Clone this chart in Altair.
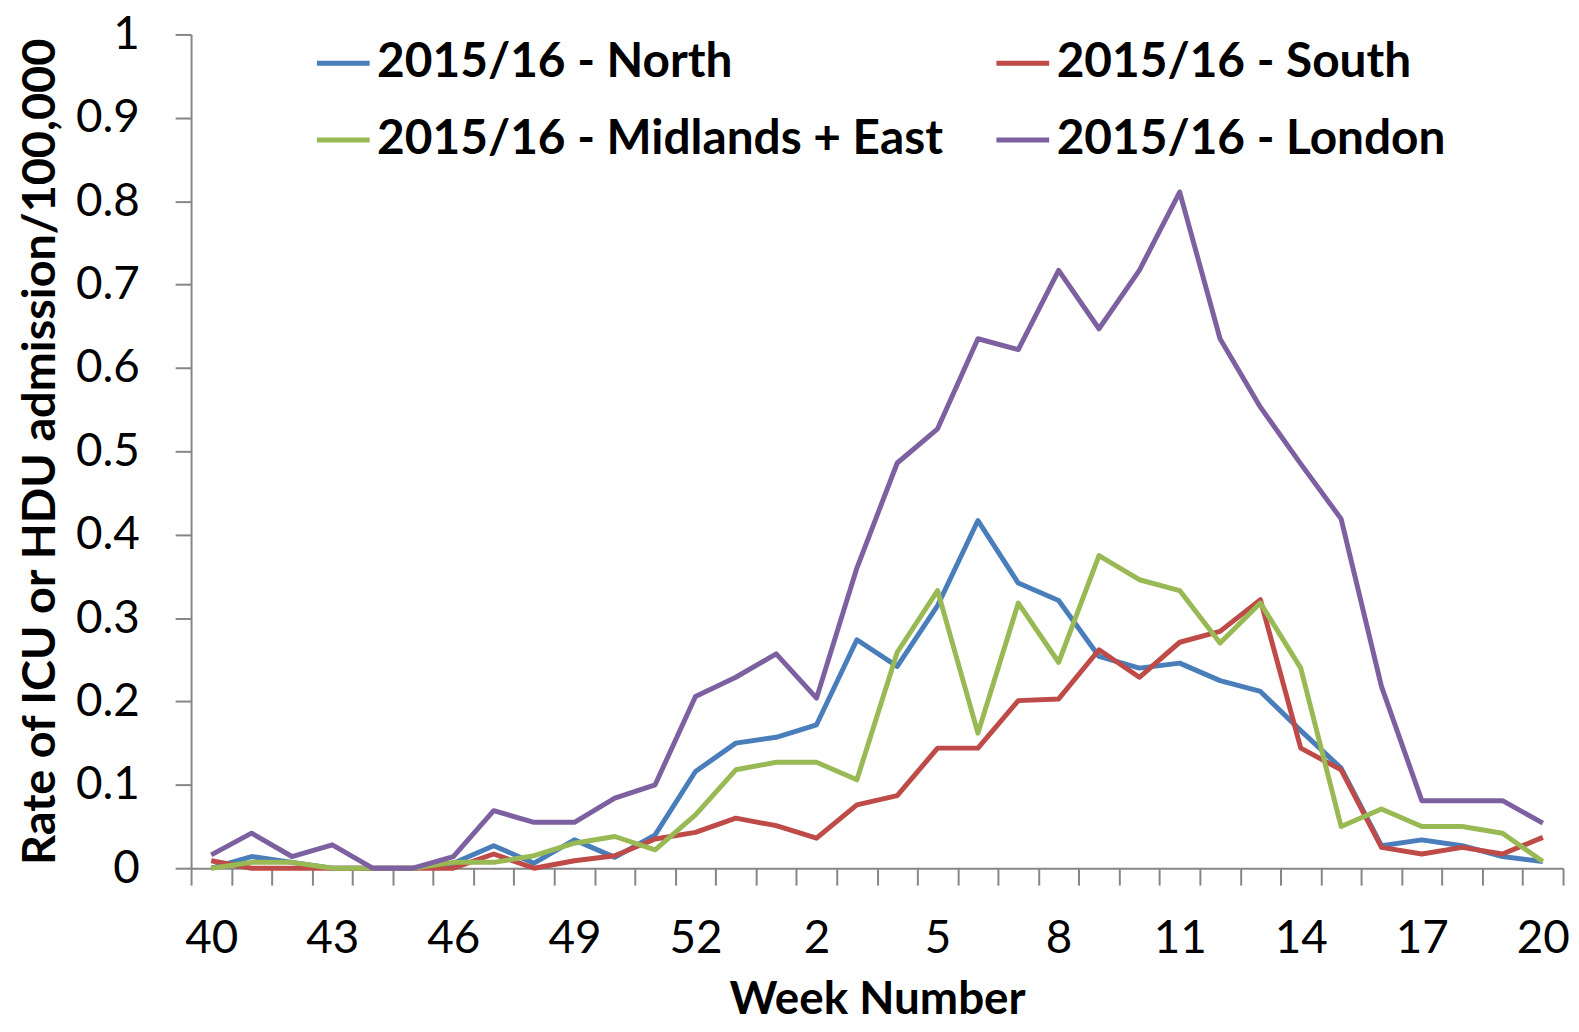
import altair as alt
import pandas as pd

weeks = ["40", "41", "42", "43", "44", "45", "46", "47", "48", "49", "50", "51", "52", "53",
         "1", "2", "3", "4", "5", "6", "7", "8", "9", "10", "11", "12", "13", "14", "15",
         "16", "17", "18", "19", "20"]

north = [0.0, 0.014, 0.007, 0.0, 0.0, 0.0, 0.006, 0.027, 0.006, 0.034, 0.013, 0.040,
         0.116, 0.150, 0.157, 0.172, 0.274, 0.242, 0.315, 0.417, 0.342, 0.321, 0.254,
         0.240, 0.246, 0.225, 0.212, 0.165, 0.120, 0.027, 0.034, 0.027, 0.014, 0.008]
south = [0.009, 0.0, 0.0, 0.0, 0.0, 0.0, 0.0, 0.017, 0.0, 0.009, 0.015, 0.035,
         0.043, 0.060, 0.051, 0.036, 0.076, 0.087, 0.144, 0.144, 0.201, 0.203, 0.262,
         0.229, 0.271, 0.284, 0.322, 0.144, 0.118, 0.025, 0.017, 0.025, 0.017, 0.037]
midlands = [0.0, 0.007, 0.007, 0.0, 0.0, 0.0, 0.007, 0.007, 0.015, 0.030, 0.038, 0.022,
            0.064, 0.118, 0.127, 0.127, 0.106, 0.259, 0.333, 0.162, 0.318, 0.247, 0.375,
            0.346, 0.333, 0.270, 0.318, 0.240, 0.050, 0.071, 0.050, 0.050, 0.042, 0.008]
london = [0.016, 0.042, 0.014, 0.028, 0.0, 0.0, 0.014, 0.069, 0.055, 0.055, 0.084, 0.100,
          0.206, 0.229, 0.257, 0.204, 0.360, 0.486, 0.527, 0.635, 0.622, 0.717, 0.647,
          0.717, 0.811, 0.635, 0.553, 0.485, 0.419, 0.218, 0.081, 0.081, 0.081, 0.054]

series_names = ["2015/16 - North", "2015/16 - South", "2015/16 - Midlands + East", "2015/16 - London"]
series_colors = ["#4A7EBB", "#BE4B48", "#98B954", "#7D60A0"]
y_ticks = [0, 0.1, 0.2, 0.3, 0.4, 0.5, 0.6, 0.7, 0.8, 0.9, 1]

rows = []
for name, vals in zip(series_names, [north, south, midlands, london]):
    for i, (w, v) in enumerate(zip(weeks, vals)):
        rows.append({"idx": i, "week": w, "value": v, "series": name})
df = pd.DataFrame(rows)

n = len(weeks)
W, H = 1379, 838
band = W / n
boundaries = [i - 0.5 for i in range(n + 1)]
labels_js = "[" + ",".join("'" + w + "'" for w in weeks) + "]"
k = "round(datum.value + 0.5)"
label_expr = "(" + k + " % 3 == 0 && " + k + " < " + str(n) + ") ? " + labels_js + "[" + k + "] : ''"

FONT = "Lato"
AXIS_COLOR = "#868686"

chart = alt.Chart(df).mark_line(strokeWidth=5, strokeJoin="round").encode(
    x=alt.X("idx:Q",
            scale=alt.Scale(domain=[-0.5, n - 0.5], nice=False, zero=False),
            axis=alt.Axis(values=boundaries, labelExpr=label_expr, labelOffset=band / 2,
                          labelFlush=False, labelOverlap=False, labelBound=False,
                          tickSize=17, tickWidth=2, tickColor=AXIS_COLOR,
                          domainColor=AXIS_COLOR, domainWidth=2, grid=False,
                          labelFont=FONT, labelFontSize=46, labelColor="black", labelPadding=32,
                          title="Week Number", titleFont=FONT, titleFontSize=46,
                          titleFontWeight="bold", titleColor="black", titlePadding=16)),
    y=alt.Y("value:Q",
            scale=alt.Scale(domain=[0, 1], nice=False),
            axis=alt.Axis(values=y_ticks, format="~g", tickSize=16, tickWidth=2,
                          tickColor=AXIS_COLOR, domainColor=AXIS_COLOR, domainWidth=2,
                          grid=False, labelFont=FONT, labelFontSize=46, labelColor="black",
                          labelPadding=36, title="Rate of ICU or HDU admission/100,000",
                          titleFont=FONT, titleFontSize=47, titleFontWeight="bold",
                          titleColor="black", titlePadding=11)),
    color=alt.Color("series:N",
                    scale=alt.Scale(domain=series_names, range=series_colors),
                    legend=alt.Legend(orient="none", legendX=124, legendY=0, columns=2,
                                      direction="horizontal",
                                      title=None, symbolType="stroke", symbolSize=2809,
                                      symbolStrokeWidth=5, labelFont=FONT, labelFontSize=48,
                                      labelFontWeight="bold", labelColor="black", labelOffset=5,
                                      labelLimit=1000, columnPadding=43, rowPadding=24,
                                      padding=0)),
    order=alt.Order("idx:Q"),
).properties(
    width=W, height=H,
    autosize=alt.AutoSizeParams(type="none"),
    padding={"left": 184, "top": 24, "right": 8, "bottom": 153},
).configure_view(stroke=None)

chart.save("out.html", embed_options={"renderer": "svg", "actions": False})
